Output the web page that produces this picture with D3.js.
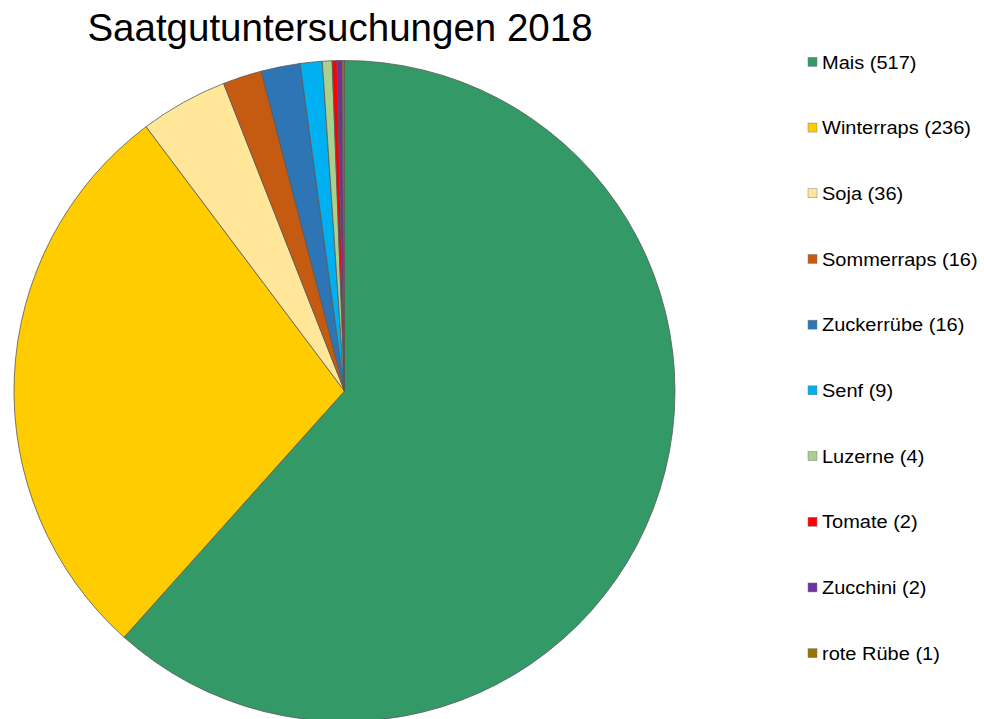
<!DOCTYPE html>
<meta charset="utf-8">
<title>Saatgutuntersuchungen 2018</title>
<style>
    body { margin: 0; background: #fff; }
    svg { display: block; }
    text { font-family: "Liberation Sans", Arial, sans-serif; fill: #000; }
    .slices path { stroke: #595959; stroke-width: 0.8px; stroke-linejoin: round; }
</style>

<svg width="984" height="719"></svg>

<script src="https://d3js.org/d3.v7.min.js"></script>
<script>

    var categories = ["Mais", "Winterraps", "Soja", "Sommerraps", "Zuckerrübe",
                      "Senf", "Luzerne", "Tomate", "Zucchini", "rote Rübe"];
    var counts = [517, 236, 36, 16, 16, 9, 4, 2, 2, 1];
    var colors = ["#339966", "#FFCC00", "#FFE699", "#C55A11", "#2E75B6",
                  "#00B0F0", "#A9D18E", "#FF0000", "#7030A0", "#997300"];
    var title = "Saatgutuntersuchungen 2018";

    var data = categories.map(function (c, i) {
        return { name: c, value: counts[i], color: colors[i] };
    });

    var svg = d3.select("svg");

    var cx = 344.5, cy = 391, radius = 330.5;

    var pie = d3.pie()
        .sort(null)
        .value(function (d) { return d.value; });

    var arc = d3.arc()
        .innerRadius(0)
        .outerRadius(radius);

    svg.append("g")
        .attr("class", "slices")
        .attr("transform", "translate(" + cx + "," + cy + ")")
        .selectAll("path")
        .data(pie(data))
        .enter().append("path")
        .attr("d", arc)
        .attr("fill", function (d) { return d.data.color; });

    svg.append("text")
        .attr("x", 340)
        .attr("y", 41)
        .attr("text-anchor", "middle")
        .style("font-size", "38.5px")
        .text(title);

    // legend rows
    var y = d3.scaleBand()
        .domain(categories)
        .range([29, 686]);

    var legend = svg.append("g")
        .selectAll("g")
        .data(data)
        .enter().append("g")
        .attr("transform", function (d) {
            return "translate(808," + (y(d.name) + y.bandwidth() / 2) + ")";
        });

    legend.append("rect")
        .attr("x", 0)
        .attr("y", -4.5)
        .attr("width", 9)
        .attr("height", 9)
        .attr("fill", function (d) { return d.color; })
        .attr("stroke", "#7f7f7f")
        .attr("stroke-width", 0.5);

    // the source legend text is a little wider than it is tall
    legend.append("text")
        .attr("transform", "translate(14,0) scale(1.07,1)")
        .attr("dy", "0.36em")
        .style("font-size", "18.7px")
        .text(function (d) { return d.name + " (" + d.value + ")"; });

</script>
